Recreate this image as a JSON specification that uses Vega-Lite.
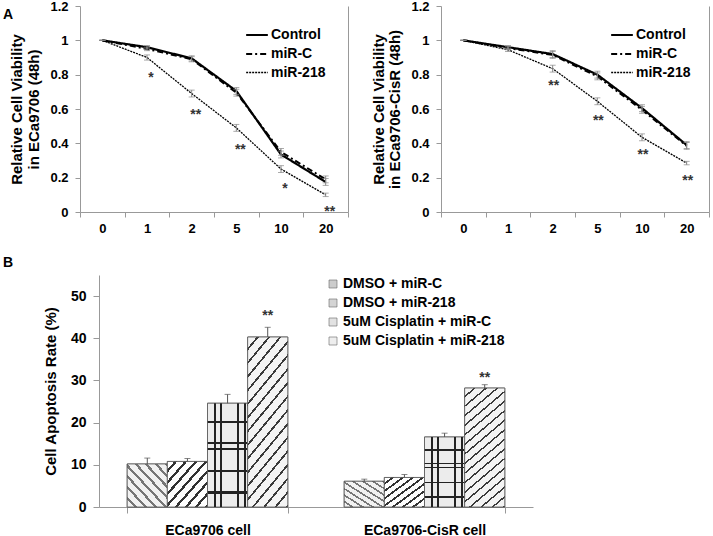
{
  "$schema": "https://vega.github.io/schema/vega-lite/v6.json",
  "padding": {"left": 3, "top": 0, "right": 0, "bottom": 0},
  "background": "white",
  "spacing": 21,
  "resolve": {"scale": {"strokeDash": "independent", "strokeWidth": "independent", "fill": "independent"}, "legend": {"strokeDash": "independent", "strokeWidth": "independent", "fill": "independent"}},
  "config": {
    "font": "Liberation Sans",
    "view": {"stroke": null},
    "axis": {"grid": false, "labelFontWeight": "bold", "labelColor": "#000", "titleFontWeight": "bold", "titleColor": "#000", "domainColor": "#999", "tickColor": "#999"},
    "legend": {"padding": 0}
  },
  "vconcat": [
    {
      "spacing": 22,
      "resolve": {"scale": {"strokeDash": "independent", "strokeWidth": "independent"}, "legend": {"strokeDash": "independent", "strokeWidth": "independent"}},
      "hconcat": [
        {
          "width": 268, "height": 206,
          "title": {"text": "A", "anchor": "start", "frame": "group", "dx": -77, "dy": 22, "offset": 0, "fontSize": 14, "fontWeight": "bold", "color": "#000"},
          "resolve": {"axis": {"y": "independent"}},
          "encoding": {
            "x": {"field": "dose", "type": "nominal", "sort": ["0", "1", "2", "5", "10", "20"], "scale": {"paddingInner": 0, "paddingOuter": 0}, "axis": {"title": null, "labelAngle": 0, "tickBand": "extent", "labelFontSize": 13, "labelPadding": 5, "tickSize": 5}}
          },
          "layer": [
            {
              "data": {"name": "left"},
              "mark": {"type": "line", "color": "#000"},
              "encoding": {
                "y": {"field": "v", "type": "quantitative", "scale": {"domain": [0, 1.2], "nice": false}, "axis": {"title": ["Relative Cell Viability", "in ECa9706 (48h)"], "values": [0, 0.2, 0.4, 0.6, 0.8, 1, 1.2], "format": "~g", "labelFontSize": 13, "tickSize": 5, "labelPadding": 7, "titleFontSize": 15, "titlePadding": 8, "titleLineHeight": 17}},
                "strokeDash": {"field": "s", "type": "nominal", "scale": {"domain": ["Control", "miR-C", "miR-218"], "range": [[1, 0], [6, 3, 2, 3], [2, 1]]}, "legend": {"orient": "none", "legendX": 165, "legendY": 17, "title": null, "symbolType": "stroke", "symbolSize": 470, "symbolStrokeColor": "#000", "labelFontSize": 14, "labelFontWeight": "bold", "labelOffset": 2, "rowPadding": 0}},
                "strokeWidth": {"field": "s", "type": "nominal", "scale": {"type": "ordinal", "domain": ["Control", "miR-C", "miR-218"], "range": [2.2, 2, 1.3]}, "legend": {"orient": "none", "legendX": 165, "legendY": 17, "title": null, "symbolType": "stroke", "symbolSize": 470, "symbolStrokeColor": "#000", "labelFontSize": 14, "labelFontWeight": "bold", "labelOffset": 2, "rowPadding": 0}}
              }
            },
            {
              "data": {"name": "left"},
              "mark": {"type": "errorbar", "ticks": {"size": 6}, "color": "#888"},
              "encoding": {
                "y": {"field": "v", "type": "quantitative", "scale": {"domain": [0, 1.2], "nice": false}, "axis": null},
                "yError": {"field": "e"}
              }
            },
            {
              "data": {"values": [
                {"dose": "1", "v": 0.8, "t": "*"},
                {"dose": "2", "v": 0.58, "t": "**"},
                {"dose": "5", "v": 0.38, "t": "**"},
                {"dose": "10", "v": 0.15, "t": "*"},
                {"dose": "20", "v": 0.02, "t": "**"}
              ]},
              "mark": {"type": "text", "fontSize": 14, "fontWeight": "bold", "color": "#333", "dx": 4, "dy": 3, "baseline": "middle"},
              "encoding": {
                "y": {"field": "v", "type": "quantitative", "scale": {"domain": [0, 1.2], "nice": false}, "axis": {"orient": "right", "labels": false, "ticks": false, "title": null, "domainColor": "#999"}},
                "text": {"field": "t"}
              }
            }
          ]
        },
        {
          "width": 268, "height": 206,
          "resolve": {"axis": {"y": "independent"}},
          "encoding": {
            "x": {"field": "dose", "type": "nominal", "sort": ["0", "1", "2", "5", "10", "20"], "scale": {"paddingInner": 0, "paddingOuter": 0}, "axis": {"title": null, "labelAngle": 0, "tickBand": "extent", "labelFontSize": 13, "labelPadding": 5, "tickSize": 5}}
          },
          "layer": [
            {
              "data": {"name": "right"},
              "mark": {"type": "line", "color": "#000"},
              "encoding": {
                "y": {"field": "v", "type": "quantitative", "scale": {"domain": [0, 1.2], "nice": false}, "axis": {"title": ["Relative Cell Viability", "in ECa9706-CisR (48h)"], "values": [0, 0.2, 0.4, 0.6, 0.8, 1, 1.2], "format": "~g", "labelFontSize": 13, "tickSize": 5, "labelPadding": 7, "titleFontSize": 15, "titlePadding": 8, "titleLineHeight": 16}},
                "strokeDash": {"field": "s", "type": "nominal", "scale": {"domain": ["Control", "miR-C", "miR-218"], "range": [[1, 0], [6, 3, 2, 3], [2, 1]]}, "legend": {"orient": "none", "legendX": 169, "legendY": 17, "title": null, "symbolType": "stroke", "symbolSize": 470, "symbolStrokeColor": "#000", "labelFontSize": 14, "labelFontWeight": "bold", "labelOffset": 2, "rowPadding": 0}},
                "strokeWidth": {"field": "s", "type": "nominal", "scale": {"type": "ordinal", "domain": ["Control", "miR-C", "miR-218"], "range": [2.2, 2, 1.3]}, "legend": {"orient": "none", "legendX": 169, "legendY": 17, "title": null, "symbolType": "stroke", "symbolSize": 470, "symbolStrokeColor": "#000", "labelFontSize": 14, "labelFontWeight": "bold", "labelOffset": 2, "rowPadding": 0}}
              }
            },
            {
              "data": {"name": "right"},
              "mark": {"type": "errorbar", "ticks": {"size": 6}, "color": "#888"},
              "encoding": {
                "y": {"field": "v", "type": "quantitative", "scale": {"domain": [0, 1.2], "nice": false}, "axis": null},
                "yError": {"field": "e"}
              }
            },
            {
              "data": {"values": [
                {"dose": "2", "v": 0.75, "t": "**"},
                {"dose": "5", "v": 0.55, "t": "**"},
                {"dose": "10", "v": 0.35, "t": "**"},
                {"dose": "20", "v": 0.2, "t": "**"}
              ]},
              "mark": {"type": "text", "fontSize": 14, "fontWeight": "bold", "color": "#333", "dx": 1, "dy": 3, "baseline": "middle"},
              "encoding": {
                "y": {"field": "v", "type": "quantitative", "scale": {"domain": [0, 1.2], "nice": false}, "axis": {"orient": "right", "labels": false, "ticks": false, "title": null, "domainColor": "#999"}},
                "text": {"field": "t"}
              }
            }
          ]
        }
      ]
    },
    {
      "hconcat": [
        {
          "width": 453, "height": 232,
          "title": {"text": "B", "anchor": "start", "frame": "group", "dx": -77, "offset": 5, "fontSize": 14, "fontWeight": "bold", "color": "#000"},
          "data": {"name": "apop"},
          "encoding": {
            "x": {"field": "cell", "type": "nominal", "sort": ["ECa9706 cell", "ECa9706-CisR cell"], "scale": {"range": [19, 453], "paddingInner": 0.26, "paddingOuter": 0.13}, "axis": {"title": null, "labelAngle": 0, "labelFontSize": 14, "tickBand": "extent", "tickSize": 6, "labelPadding": 10}},
            "xOffset": {"field": "cond", "type": "nominal", "scale": {"domain": ["DMSO + miR-C", "DMSO + miR-218", "5uM Cisplatin + miR-C", "5uM Cisplatin + miR-218"], "paddingInner": 0, "paddingOuter": 0}}
          },
          "layer": [
            {
              "mark": {"type": "bar", "stroke": "#555", "strokeWidth": 0.8},
              "encoding": {
                "y": {"field": "rate", "type": "quantitative", "scale": {"domain": [0, 55], "nice": false}, "axis": {"title": "Cell Apoptosis Rate (%)", "offset": -19, "values": [0, 10, 20, 30, 40, 50], "labelFontSize": 14, "titleFontSize": 15, "tickSize": 6, "labelPadding": 7, "titlePadding": 12}},
                "fill": {"field": "cond", "type": "nominal", "scale": {"domain": ["DMSO + miR-C", "DMSO + miR-218", "5uM Cisplatin + miR-C", "5uM Cisplatin + miR-218"], "range": ["#cccccc", "#d4d4d4", "#e2e2e2", "#eeeeee"]}, "legend": {"orient": "none", "legendX": 246, "legendY": 2, "title": null, "symbolType": "square", "symbolSize": 64, "symbolStrokeColor": "#666", "symbolStrokeWidth": 0.6, "labelFontSize": 14, "labelFontWeight": "bold", "labelLimit": 300, "rowPadding": 5, "labelOffset": 3}}
              }
            },
            {
              "transform": [{"filter": "datum.cond == 'DMSO + miR-C'"}],
              "mark": {"type": "bar", "stroke": "#555", "strokeWidth": 0.8, "fill": {"gradient": "linear", "x1": 0, "y1": 1, "x2": 1, "y2": 0, "stops": [
                {"offset": 0, "color": "#f2f2f2"}, {"offset": 0.0875, "color": "#f2f2f2"}, {"offset": 0.0875, "color": "#777777"}, {"offset": 0.125, "color": "#777777"},
                {"offset": 0.125, "color": "#f2f2f2"}, {"offset": 0.2125, "color": "#f2f2f2"}, {"offset": 0.2125, "color": "#777777"}, {"offset": 0.25, "color": "#777777"},
                {"offset": 0.25, "color": "#f2f2f2"}, {"offset": 0.3375, "color": "#f2f2f2"}, {"offset": 0.3375, "color": "#777777"}, {"offset": 0.375, "color": "#777777"},
                {"offset": 0.375, "color": "#f2f2f2"}, {"offset": 0.4625, "color": "#f2f2f2"}, {"offset": 0.4625, "color": "#777777"}, {"offset": 0.5, "color": "#777777"},
                {"offset": 0.5, "color": "#f2f2f2"}, {"offset": 0.5875, "color": "#f2f2f2"}, {"offset": 0.5875, "color": "#777777"}, {"offset": 0.625, "color": "#777777"},
                {"offset": 0.625, "color": "#f2f2f2"}, {"offset": 0.7125, "color": "#f2f2f2"}, {"offset": 0.7125, "color": "#777777"}, {"offset": 0.75, "color": "#777777"},
                {"offset": 0.75, "color": "#f2f2f2"}, {"offset": 0.8375, "color": "#f2f2f2"}, {"offset": 0.8375, "color": "#777777"}, {"offset": 0.875, "color": "#777777"},
                {"offset": 0.875, "color": "#f2f2f2"}, {"offset": 0.9625, "color": "#f2f2f2"}, {"offset": 0.9625, "color": "#777777"}, {"offset": 1, "color": "#777777"}
              ]}},
              "encoding": {"y": {"field": "rate", "type": "quantitative", "scale": {"domain": [0, 55], "nice": false}}}
            },
            {
              "transform": [{"filter": "datum.cond == 'DMSO + miR-218'"}],
              "mark": {"type": "bar", "stroke": "#555", "strokeWidth": 0.8, "fill": {"gradient": "linear", "x1": 0, "y1": 0, "x2": 1, "y2": 1, "stops": [
                {"offset": 0, "color": "#ffffff"}, {"offset": 0.0875, "color": "#ffffff"}, {"offset": 0.0875, "color": "#333333"}, {"offset": 0.125, "color": "#333333"},
                {"offset": 0.125, "color": "#ffffff"}, {"offset": 0.2125, "color": "#ffffff"}, {"offset": 0.2125, "color": "#333333"}, {"offset": 0.25, "color": "#333333"},
                {"offset": 0.25, "color": "#ffffff"}, {"offset": 0.3375, "color": "#ffffff"}, {"offset": 0.3375, "color": "#333333"}, {"offset": 0.375, "color": "#333333"},
                {"offset": 0.375, "color": "#ffffff"}, {"offset": 0.4625, "color": "#ffffff"}, {"offset": 0.4625, "color": "#333333"}, {"offset": 0.5, "color": "#333333"},
                {"offset": 0.5, "color": "#ffffff"}, {"offset": 0.5875, "color": "#ffffff"}, {"offset": 0.5875, "color": "#333333"}, {"offset": 0.625, "color": "#333333"},
                {"offset": 0.625, "color": "#ffffff"}, {"offset": 0.7125, "color": "#ffffff"}, {"offset": 0.7125, "color": "#333333"}, {"offset": 0.75, "color": "#333333"},
                {"offset": 0.75, "color": "#ffffff"}, {"offset": 0.8375, "color": "#ffffff"}, {"offset": 0.8375, "color": "#333333"}, {"offset": 0.875, "color": "#333333"},
                {"offset": 0.875, "color": "#ffffff"}, {"offset": 0.9625, "color": "#ffffff"}, {"offset": 0.9625, "color": "#333333"}, {"offset": 1, "color": "#333333"}
              ]}},
              "encoding": {"y": {"field": "rate", "type": "quantitative", "scale": {"domain": [0, 55], "nice": false}}}
            },
            {
              "transform": [{"filter": "datum.cond == '5uM Cisplatin + miR-C'"}],
              "mark": {"type": "bar", "stroke": "#555", "strokeWidth": 0.8, "fill": {"gradient": "linear", "x1": 0, "y1": 0, "x2": 0, "y2": 1, "stops": [
                {"offset": 0, "color": "#ececec"}, {"offset": 0.17, "color": "#ececec"}, {"offset": 0.17, "color": "#222222"}, {"offset": 0.195, "color": "#222222"},
                {"offset": 0.195, "color": "#ececec"}, {"offset": 0.37, "color": "#ececec"}, {"offset": 0.37, "color": "#222222"}, {"offset": 0.39, "color": "#222222"},
                {"offset": 0.39, "color": "#ececec"}, {"offset": 0.43, "color": "#ececec"}, {"offset": 0.43, "color": "#222222"}, {"offset": 0.45, "color": "#222222"},
                {"offset": 0.45, "color": "#ececec"}, {"offset": 0.64, "color": "#ececec"}, {"offset": 0.64, "color": "#222222"}, {"offset": 0.66, "color": "#222222"},
                {"offset": 0.66, "color": "#ececec"}, {"offset": 0.85, "color": "#ececec"}, {"offset": 0.85, "color": "#222222"}, {"offset": 0.87, "color": "#222222"},
                {"offset": 0.87, "color": "#ececec"}, {"offset": 1, "color": "#ececec"}
              ]}},
              "encoding": {"y": {"field": "rate", "type": "quantitative", "scale": {"domain": [0, 55], "nice": false}}}
            },
            {
              "transform": [{"filter": "datum.cond == '5uM Cisplatin + miR-C'"}],
              "mark": {"type": "bar", "strokeWidth": 0, "fill": {"gradient": "linear", "x1": 0, "y1": 0, "x2": 1, "y2": 0, "stops": [
                {"offset": 0, "color": "rgba(0,0,0,0)"}, {"offset": 0.15, "color": "rgba(0,0,0,0)"}, {"offset": 0.15, "color": "#222222"}, {"offset": 0.2, "color": "#222222"},
                {"offset": 0.2, "color": "rgba(0,0,0,0)"}, {"offset": 0.3, "color": "rgba(0,0,0,0)"}, {"offset": 0.3, "color": "#222222"}, {"offset": 0.35, "color": "#222222"},
                {"offset": 0.35, "color": "rgba(0,0,0,0)"}, {"offset": 0.74, "color": "rgba(0,0,0,0)"}, {"offset": 0.74, "color": "#222222"}, {"offset": 0.79, "color": "#222222"},
                {"offset": 0.79, "color": "rgba(0,0,0,0)"}, {"offset": 0.9, "color": "rgba(0,0,0,0)"}, {"offset": 0.9, "color": "#222222"}, {"offset": 0.95, "color": "#222222"},
                {"offset": 0.95, "color": "rgba(0,0,0,0)"}, {"offset": 1, "color": "rgba(0,0,0,0)"}
              ]}},
              "encoding": {"y": {"field": "rate", "type": "quantitative", "scale": {"domain": [0, 55], "nice": false}}}
            },
            {
              "transform": [{"filter": "datum.cond == '5uM Cisplatin + miR-218'"}],
              "mark": {"type": "bar", "stroke": "#555", "strokeWidth": 0.8, "fill": {"gradient": "linear", "x1": 0, "y1": 0, "x2": 0.34, "y2": 1.19, "stops": [
                {"offset": 0, "color": "#f4f4f4"}, {"offset": 0.05, "color": "#f4f4f4"}, {"offset": 0.05, "color": "#3a3a3a"}, {"offset": 0.0625, "color": "#3a3a3a"},
                {"offset": 0.0625, "color": "#f4f4f4"}, {"offset": 0.1125, "color": "#f4f4f4"}, {"offset": 0.1125, "color": "#3a3a3a"}, {"offset": 0.125, "color": "#3a3a3a"},
                {"offset": 0.125, "color": "#f4f4f4"}, {"offset": 0.175, "color": "#f4f4f4"}, {"offset": 0.175, "color": "#3a3a3a"}, {"offset": 0.1875, "color": "#3a3a3a"},
                {"offset": 0.1875, "color": "#f4f4f4"}, {"offset": 0.2375, "color": "#f4f4f4"}, {"offset": 0.2375, "color": "#3a3a3a"}, {"offset": 0.25, "color": "#3a3a3a"},
                {"offset": 0.25, "color": "#f4f4f4"}, {"offset": 0.3, "color": "#f4f4f4"}, {"offset": 0.3, "color": "#3a3a3a"}, {"offset": 0.3125, "color": "#3a3a3a"},
                {"offset": 0.3125, "color": "#f4f4f4"}, {"offset": 0.3625, "color": "#f4f4f4"}, {"offset": 0.3625, "color": "#3a3a3a"}, {"offset": 0.375, "color": "#3a3a3a"},
                {"offset": 0.375, "color": "#f4f4f4"}, {"offset": 0.425, "color": "#f4f4f4"}, {"offset": 0.425, "color": "#3a3a3a"}, {"offset": 0.4375, "color": "#3a3a3a"},
                {"offset": 0.4375, "color": "#f4f4f4"}, {"offset": 0.4875, "color": "#f4f4f4"}, {"offset": 0.4875, "color": "#3a3a3a"}, {"offset": 0.5, "color": "#3a3a3a"},
                {"offset": 0.5, "color": "#f4f4f4"}, {"offset": 0.55, "color": "#f4f4f4"}, {"offset": 0.55, "color": "#3a3a3a"}, {"offset": 0.5625, "color": "#3a3a3a"},
                {"offset": 0.5625, "color": "#f4f4f4"}, {"offset": 0.6125, "color": "#f4f4f4"}, {"offset": 0.6125, "color": "#3a3a3a"}, {"offset": 0.625, "color": "#3a3a3a"},
                {"offset": 0.625, "color": "#f4f4f4"}, {"offset": 0.675, "color": "#f4f4f4"}, {"offset": 0.675, "color": "#3a3a3a"}, {"offset": 0.6875, "color": "#3a3a3a"},
                {"offset": 0.6875, "color": "#f4f4f4"}, {"offset": 0.7375, "color": "#f4f4f4"}, {"offset": 0.7375, "color": "#3a3a3a"}, {"offset": 0.75, "color": "#3a3a3a"},
                {"offset": 0.75, "color": "#f4f4f4"}, {"offset": 0.8, "color": "#f4f4f4"}, {"offset": 0.8, "color": "#3a3a3a"}, {"offset": 0.8125, "color": "#3a3a3a"},
                {"offset": 0.8125, "color": "#f4f4f4"}, {"offset": 0.8625, "color": "#f4f4f4"}, {"offset": 0.8625, "color": "#3a3a3a"}, {"offset": 0.875, "color": "#3a3a3a"},
                {"offset": 0.875, "color": "#f4f4f4"}, {"offset": 0.925, "color": "#f4f4f4"}, {"offset": 0.925, "color": "#3a3a3a"}, {"offset": 0.9375, "color": "#3a3a3a"},
                {"offset": 0.9375, "color": "#f4f4f4"}, {"offset": 0.9875, "color": "#f4f4f4"}, {"offset": 0.9875, "color": "#3a3a3a"}, {"offset": 1, "color": "#3a3a3a"}
              ]}},
              "encoding": {"y": {"field": "rate", "type": "quantitative", "scale": {"domain": [0, 55], "nice": false}}}
            },
            {
              "mark": {"type": "rule", "color": "#555", "strokeWidth": 1},
              "encoding": {
                "y": {"field": "rate", "type": "quantitative", "scale": {"domain": [0, 55], "nice": false}},
                "y2": {"field": "err"}
              }
            },
            {
              "mark": {"type": "tick", "color": "#555", "size": 6, "thickness": 1},
              "encoding": {
                "y": {"field": "err", "type": "quantitative", "scale": {"domain": [0, 55], "nice": false}}
              }
            },
            {
              "transform": [{"filter": "isValid(datum.ast)"}],
              "mark": {"type": "text", "fontSize": 14, "fontWeight": "bold", "color": "#333", "dy": 3, "baseline": "middle"},
              "encoding": {
                "y": {"field": "ast", "type": "quantitative", "scale": {"domain": [0, 55], "nice": false}},
                "text": {"field": "sig"}
              }
            }
          ]
        }
      ]
    }
  ],
  "datasets": {
    "left": [
      {"dose": "0", "s": "Control", "v": 1.0, "e": 0.0},
      {"dose": "1", "s": "Control", "v": 0.96, "e": 0.01},
      {"dose": "2", "s": "Control", "v": 0.895, "e": 0.015},
      {"dose": "5", "s": "Control", "v": 0.705, "e": 0.02},
      {"dose": "10", "s": "Control", "v": 0.335, "e": 0.02},
      {"dose": "20", "s": "Control", "v": 0.175, "e": 0.02},
      {"dose": "0", "s": "miR-C", "v": 1.0, "e": 0.0},
      {"dose": "1", "s": "miR-C", "v": 0.95, "e": 0.01},
      {"dose": "2", "s": "miR-C", "v": 0.89, "e": 0.015},
      {"dose": "5", "s": "miR-C", "v": 0.695, "e": 0.02},
      {"dose": "10", "s": "miR-C", "v": 0.35, "e": 0.02},
      {"dose": "20", "s": "miR-C", "v": 0.19, "e": 0.02},
      {"dose": "0", "s": "miR-218", "v": 1.0, "e": 0.0},
      {"dose": "1", "s": "miR-218", "v": 0.9, "e": 0.015},
      {"dose": "2", "s": "miR-218", "v": 0.69, "e": 0.02},
      {"dose": "5", "s": "miR-218", "v": 0.49, "e": 0.02},
      {"dose": "10", "s": "miR-218", "v": 0.25, "e": 0.02},
      {"dose": "20", "s": "miR-218", "v": 0.1, "e": 0.01}
    ],
    "right": [
      {"dose": "0", "s": "Control", "v": 1.0, "e": 0.0},
      {"dose": "1", "s": "Control", "v": 0.96, "e": 0.01},
      {"dose": "2", "s": "Control", "v": 0.92, "e": 0.02},
      {"dose": "5", "s": "Control", "v": 0.8, "e": 0.02},
      {"dose": "10", "s": "Control", "v": 0.605, "e": 0.02},
      {"dose": "20", "s": "Control", "v": 0.39, "e": 0.02},
      {"dose": "0", "s": "miR-C", "v": 1.0, "e": 0.0},
      {"dose": "1", "s": "miR-C", "v": 0.955, "e": 0.01},
      {"dose": "2", "s": "miR-C", "v": 0.915, "e": 0.02},
      {"dose": "5", "s": "miR-C", "v": 0.79, "e": 0.02},
      {"dose": "10", "s": "miR-C", "v": 0.595, "e": 0.02},
      {"dose": "20", "s": "miR-C", "v": 0.385, "e": 0.02},
      {"dose": "0", "s": "miR-218", "v": 1.0, "e": 0.0},
      {"dose": "1", "s": "miR-218", "v": 0.945, "e": 0.01},
      {"dose": "2", "s": "miR-218", "v": 0.835, "e": 0.02},
      {"dose": "5", "s": "miR-218", "v": 0.645, "e": 0.02},
      {"dose": "10", "s": "miR-218", "v": 0.435, "e": 0.02},
      {"dose": "20", "s": "miR-218", "v": 0.285, "e": 0.01}
    ],
    "apop": [
      {"cell": "ECa9706 cell", "cond": "DMSO + miR-C", "rate": 10.2, "err": 11.6},
      {"cell": "ECa9706 cell", "cond": "DMSO + miR-218", "rate": 10.8, "err": 11.5},
      {"cell": "ECa9706 cell", "cond": "5uM Cisplatin + miR-C", "rate": 24.6, "err": 26.7},
      {"cell": "ECa9706 cell", "cond": "5uM Cisplatin + miR-218", "rate": 40.3, "err": 42.6, "ast": 46, "sig": "**"},
      {"cell": "ECa9706-CisR cell", "cond": "DMSO + miR-C", "rate": 6.1, "err": 6.6},
      {"cell": "ECa9706-CisR cell", "cond": "DMSO + miR-218", "rate": 7.0, "err": 7.7},
      {"cell": "ECa9706-CisR cell", "cond": "5uM Cisplatin + miR-C", "rate": 16.6, "err": 17.5},
      {"cell": "ECa9706-CisR cell", "cond": "5uM Cisplatin + miR-218", "rate": 28.2, "err": 29.0, "ast": 31.2, "sig": "**"}
    ]
  }
}
